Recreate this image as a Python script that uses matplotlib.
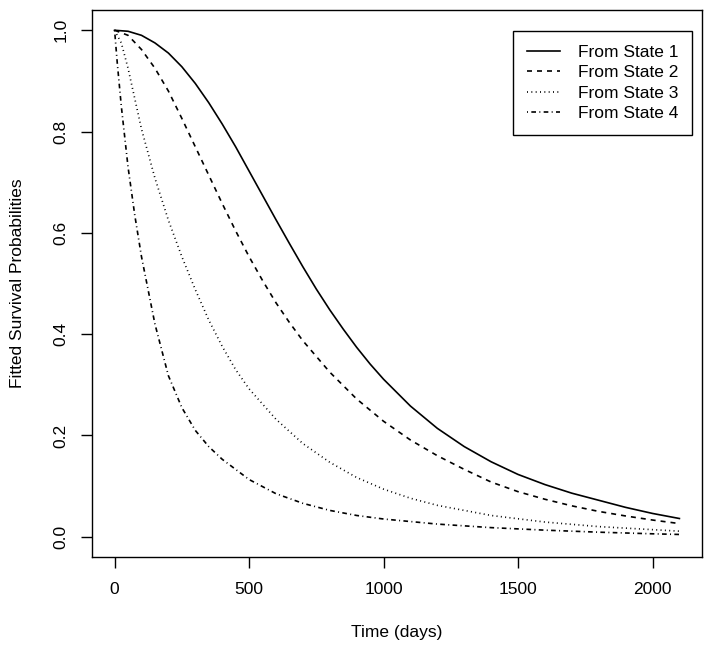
import numpy as np
import matplotlib
matplotlib.use("Agg")
import matplotlib.pyplot as plt

plt.rcParams['font.family'] = ['Liberation Sans', 'DejaVu Sans']

# values
days_1 = [0, 50, 100, 150, 200, 250, 300, 350, 400, 450, 500, 550, 600, 650, 700,
          750, 800, 850, 900, 950, 1000, 1100, 1200, 1300, 1400, 1500, 1600, 1700,
          1800, 1900, 2000, 2100]
surv_1 = [1.0, 0.998, 0.99, 0.975, 0.955, 0.928, 0.895, 0.857, 0.815, 0.77, 0.722,
          0.674, 0.626, 0.579, 0.533, 0.489, 0.448, 0.41, 0.374, 0.341, 0.311, 0.258,
          0.214, 0.178, 0.148, 0.123, 0.103, 0.086, 0.072, 0.058, 0.046, 0.036]

days_2 = [0, 50, 100, 150, 200, 250, 300, 350, 400, 450, 500, 550, 600, 650, 700,
          800, 900, 1000, 1100, 1200, 1300, 1400, 1500, 1600, 1700, 1800, 1900,
          2000, 2100]
surv_2 = [1.0, 0.99, 0.962, 0.925, 0.88, 0.826, 0.77, 0.714, 0.658, 0.604, 0.553,
          0.506, 0.462, 0.423, 0.387, 0.325, 0.272, 0.228, 0.191, 0.16, 0.133, 0.108,
          0.089, 0.074, 0.061, 0.05, 0.041, 0.033, 0.026]

days_3 = [0, 25, 50, 75, 100, 150, 200, 250, 300, 350, 400, 450, 500, 600, 700,
          800, 900, 1000, 1100, 1200, 1400, 1600, 1800, 2000, 2100]
surv_3 = [1.0, 0.975, 0.925, 0.865, 0.805, 0.708, 0.625, 0.553, 0.488, 0.428,
          0.376, 0.33, 0.292, 0.232, 0.184, 0.147, 0.117, 0.094, 0.076, 0.062,
          0.042, 0.029, 0.02, 0.014, 0.011]

days_4 = [0, 10, 25, 50, 75, 100, 150, 200, 250, 300, 350, 400, 500, 600, 700,
          800, 900, 1000, 1200, 1400, 1600, 1800, 2000, 2100]
surv_4 = [1.0, 0.935, 0.85, 0.73, 0.635, 0.553, 0.42, 0.318, 0.255, 0.21, 0.178,
          0.153, 0.113, 0.085, 0.066, 0.052, 0.042, 0.035, 0.025, 0.018, 0.013,
          0.009, 0.0058, 0.0045]

labels = ["From State 1", "From State 2", "From State 3", "From State 4"]
x_ticks = [0, 500, 1000, 1500, 2000]
y_ticks = [0.0, 0.2, 0.4, 0.6, 0.8, 1.0]

W, H = 714, 652
fig = plt.figure(figsize=(W / 100, H / 100), dpi=100)
ax = fig.add_axes([92 / W, 1 - 557 / H, 610 / W, 547 / H])

styles = ['-', (0, (3, 3)), (0, (0.6, 2.0)), (0, (0.6, 2.0, 2.8, 2.0))]
series = [(days_1, surv_1), (days_2, surv_2), (days_3, surv_3), (days_4, surv_4)]
for (d, s), ls, lab in zip(series, styles, labels):
    ax.plot(d, s, color='black', lw=1.2, linestyle=ls, label=lab)

ax.set_xlim(-84, 2184)
ax.set_ylim(-0.04, 1.04)
ax.set_xticks(x_ticks)
ax.set_xticklabels([str(t) for t in x_ticks])
ax.set_yticks(y_ticks)
ax.set_yticklabels(["%.1f" % v for v in y_ticks], rotation=90, va='center')
ax.tick_params(axis='both', direction='out', length=8, width=1,
               labelsize=12.5, color='black')
ax.tick_params(axis='x', pad=10)
ax.tick_params(axis='y', pad=9)
for sp in ax.spines.values():
    sp.set_linewidth(1.0)
    sp.set_color('black')

ax.set_xlabel("Time (days)", fontsize=12.5, va='center')
ax.xaxis.set_label_coords(0.5, -(632 - 557) / 547)
ax.set_ylabel("Fitted Survival Probabilities", fontsize=12.5, va='center')
ax.yaxis.set_label_coords(-(92 - 18) / 610, 0.5)

leg = ax.legend(loc='upper right', bbox_to_anchor=((692 - 92) / 610, (557 - 31) / 547),
                borderaxespad=0, fancybox=False, edgecolor='black', framealpha=1,
                fontsize=12.5, handlelength=1.9, handletextpad=1.0,
                labelspacing=0.3, borderpad=0.8)
leg.get_frame().set_linewidth(1.0)

fig.savefig("out.png", dpi=100)
